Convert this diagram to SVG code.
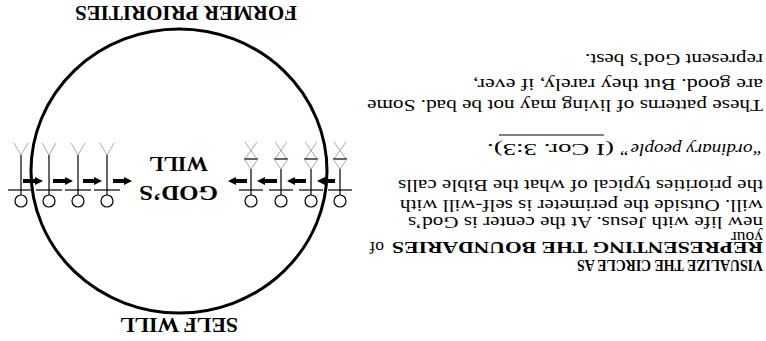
<svg xmlns="http://www.w3.org/2000/svg" xmlns:xlink="http://www.w3.org/1999/xlink" width="766" height="341" viewBox="0 0 766 341">
<style>
  .t { font-family: "Liberation Serif", "Times New Roman", serif; font-size: 17.5px; fill: #000; }
  .b { font-family: "Liberation Serif", "Times New Roman", serif; font-weight: bold; fill: #000; }
  .h { font-size: 20.5px; }
  .bb { font-size: 17.5px; }
  .gray { stroke: #a8a8a8; stroke-width: 1; fill: none; }
  .blk { stroke: #000; stroke-width: 1.2; fill: none; }
  .head { stroke: #000; stroke-width: 1.2; fill: #fff; }
  .arrow { stroke: #000; stroke-width: 4; marker-end: url(#ah); }
  .rim { stroke: #000; stroke-width: 3; fill: none; }
</style>
<defs>
  <marker id="ah" viewBox="0 0 8 8" refX="3" refY="4" markerWidth="8" markerHeight="8" markerUnits="userSpaceOnUse" orient="auto">
    <path d="M0,0 L8,4 L0,8 z" fill="#000"/>
  </marker>
  <g id="figPlain">
    <polyline class="gray" points="-7,143 0,155 7,143"/>
    <line class="blk" x1="0" y1="155" x2="0" y2="195"/>
    <line class="blk" x1="-13" y1="190" x2="13" y2="190"/>
    <circle class="head" cx="0" cy="201" r="6"/>
  </g>
  <g id="figCross">
    <line class="gray" x1="-6" y1="142" x2="6" y2="159"/>
    <line class="gray" x1="6" y1="142" x2="-6" y2="159"/>
    <line class="blk" x1="-7" y1="159" x2="7" y2="159"/>
    <polyline class="gray" points="-7,159 0,169 7,159"/>
    <line class="blk" x1="0" y1="169" x2="0" y2="195"/>
    <line class="blk" x1="-12" y1="190" x2="12" y2="190"/>
    <circle class="head" cx="0" cy="201" r="6"/>
  </g>
</defs>
<rect width="766" height="341" fill="#fff"/>

<g id="circle">
  <ellipse class="rim" cx="179" cy="171" rx="148" ry="142"/>
</g>

<g id="fig-l1"><use xlink:href="#figPlain" x="21"/></g>
<g id="fig-l2"><use xlink:href="#figPlain" x="49"/></g>
<g id="fig-l3"><use xlink:href="#figPlain" x="78"/></g>
<g id="fig-l4"><use xlink:href="#figPlain" x="107"/></g>
<g id="fig-r1"><use xlink:href="#figCross" x="251"/></g>
<g id="fig-r2"><use xlink:href="#figCross" x="281"/></g>
<g id="fig-r3"><use xlink:href="#figCross" x="311"/></g>
<g id="fig-r4"><use xlink:href="#figCross" x="340"/></g>

<g id="connectors">
  <line class="arrow" x1="23" y1="181" x2="38" y2="181"/>
  <line class="arrow" x1="53" y1="181" x2="68" y2="181"/>
  <line class="arrow" x1="83" y1="181" x2="97" y2="181"/>
  <line class="arrow" x1="113" y1="181" x2="127" y2="181"/>
  <line class="arrow" x1="247" y1="181" x2="233" y2="181"/>
  <line class="arrow" x1="277" y1="181" x2="262" y2="181"/>
  <line class="arrow" x1="306" y1="181" x2="292" y2="181"/>
  <line class="arrow" x1="335" y1="181" x2="322" y2="181"/>
</g>

<g id="labels">
  <text class="b h" x="297" y="6" transform="rotate(180 297 6)" textLength="222" lengthAdjust="spacingAndGlyphs">FORMER PRIORITIES</text>
  <text class="b h" x="238" y="318" transform="rotate(180 238 318)" textLength="118" lengthAdjust="spacingAndGlyphs">SELF WILL</text>
  <text class="b h" x="218" y="186" transform="rotate(180 218 186)" textLength="79" lengthAdjust="spacingAndGlyphs">GOD’S</text>
  <text class="b h" x="208" y="157" transform="rotate(180 208 157)" textLength="59" lengthAdjust="spacingAndGlyphs">WILL</text>
</g>

<g id="textblock">
  <text class="b bb" x="763" y="260" transform="rotate(180 763 260)" textLength="186" lengthAdjust="spacingAndGlyphs">VISUALIZE THE CIRCLE AS</text>
  <text class="b bb" x="763" y="242" transform="rotate(180 763 242)" textLength="371" lengthAdjust="spacingAndGlyphs">REPRESENTING THE BOUNDARIES</text>
  <text class="t" x="384" y="242" transform="rotate(180 384 242)">of</text>
  <text class="t" x="763" y="232" transform="rotate(180 763 232)">your</text>
  <text class="t" x="763" y="217" transform="rotate(180 763 217)" textLength="355" lengthAdjust="spacingAndGlyphs">new life with Jesus.  At the center is God’s</text>
  <text class="t" x="763" y="200" transform="rotate(180 763 200)" textLength="363" lengthAdjust="spacingAndGlyphs">will.  Outside the perimeter is self-will with</text>
  <text class="t" x="763" y="180" transform="rotate(180 763 180)" textLength="365" lengthAdjust="spacingAndGlyphs">the priorities typical of what the Bible calls</text>
  <text class="t" x="763" y="144" transform="rotate(180 763 144)" textLength="143" lengthAdjust="spacingAndGlyphs" font-style="italic">“ordinary people”</text>
  <text class="t" x="614" y="144" transform="rotate(180 614 144)" textLength="127" lengthAdjust="spacingAndGlyphs">(I Cor. 3:3).</text>
  <line x1="499" y1="135" x2="604" y2="135" stroke="#000" stroke-width="1"/>
  <text class="t" x="763" y="100" transform="rotate(180 763 100)" textLength="396" lengthAdjust="spacingAndGlyphs">These patterns of living may not be bad.  Some</text>
  <text class="t" x="763" y="79" transform="rotate(180 763 79)" textLength="290" lengthAdjust="spacingAndGlyphs">are good.  But they rarely, if ever,</text>
  <text class="t" x="763" y="54" transform="rotate(180 763 54)" textLength="178" lengthAdjust="spacingAndGlyphs">represent God’s best.</text>
</g>
</svg>
